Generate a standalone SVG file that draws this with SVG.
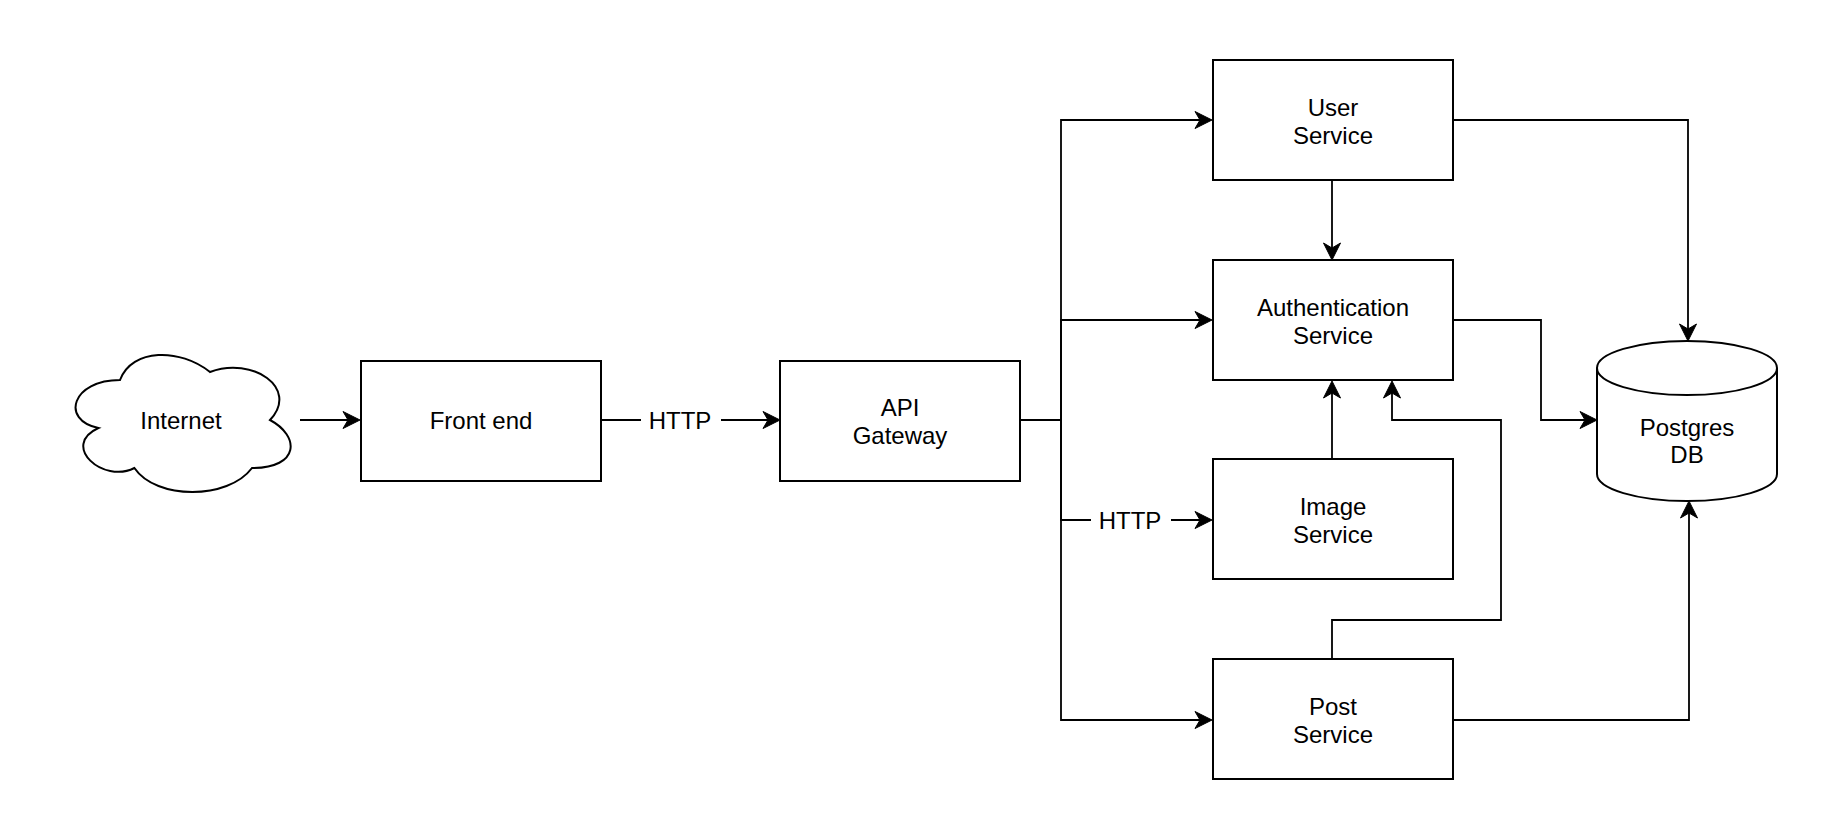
<svg xmlns="http://www.w3.org/2000/svg" width="1840" height="840" viewBox="0 0 1840 840">
<style>
.shape{fill:#ffffff;stroke:#000000;stroke-width:2}
.edge{fill:none;stroke:#000000;stroke-width:1.8;marker-end:url(#arr)}
.plain{fill:none;stroke:#000000;stroke-width:1.8}
.lbl{font-family:"Liberation Sans",Arial,Helvetica,sans-serif;font-size:24px;fill:#000000;text-anchor:middle}
.lblbg{fill:#ffffff;stroke:none}
</style>
<defs>
<marker id="arr" markerUnits="userSpaceOnUse" viewBox="-20 -10 40 20" markerWidth="40" markerHeight="20" refX="0" refY="0" orient="auto" overflow="visible">
<path d="M12,0 L-5,-8.5 L0,0 L-5,8.5 Z" fill="#000000" stroke="#000000" stroke-width="1" stroke-linejoin="miter"/>
</marker>
</defs>
<rect width="1840" height="840" fill="#ffffff"/>
<g id="connectors">
<path class="edge" d="M300,420 H348"/>
<path class="edge" d="M601,420 H768"/>
<path class="plain" d="M1020,420 H1061"/>
<path class="edge" d="M1061,420 V120 H1200"/>
<path class="edge" d="M1061,420 V320 H1200"/>
<path class="edge" d="M1061,420 V520 H1200"/>
<path class="edge" d="M1061,420 V720 H1200"/>
<path class="edge" d="M1332,181 V248"/>
<path class="edge" d="M1332,459 V393"/>
<path class="edge" d="M1332,659 V620 H1501 V420 H1392 V393"/>
<path class="edge" d="M1453,120 H1688 V329"/>
<path class="edge" d="M1453,320 H1541 V420 H1585"/>
<path class="edge" d="M1453,720 H1689 V513"/>
<g id="label-http-1">
<rect class="lblbg" x="641" y="404" width="80" height="32"/>
<text class="lbl" x="680" y="429">HTTP</text>
</g>
<g id="label-http-2">
<rect class="lblbg" x="1091" y="504" width="80" height="32"/>
<text class="lbl" x="1130" y="529">HTTP</text>
</g>
</g>
<g id="internet">
<path class="shape" d="M120,380 C72,380 60,420 98.4,428 C60,445.6 103.2,484 134.4,468 C156,500 228,500 252,468 C300,468 300,436 270,420 C300,388 252,356 210,372 C180,348 132,348 120,380 Z"/>
<text class="lbl" x="181" y="429">Internet</text>
</g>
<g id="frontend">
<rect class="shape" x="361" y="361" width="240" height="120"/>
<text class="lbl" x="481" y="429">Front end</text>
</g>
<g id="apigateway">
<rect class="shape" x="780" y="361" width="240" height="120"/>
<text class="lbl" x="900" y="416">API</text>
<text class="lbl" x="900" y="444">Gateway</text>
</g>
<g id="userservice">
<rect class="shape" x="1213" y="60" width="240" height="120"/>
<text class="lbl" x="1333" y="116">User</text>
<text class="lbl" x="1333" y="144">Service</text>
</g>
<g id="authservice">
<rect class="shape" x="1213" y="260" width="240" height="120"/>
<text class="lbl" x="1333" y="316">Authentication</text>
<text class="lbl" x="1333" y="344">Service</text>
</g>
<g id="imageservice">
<rect class="shape" x="1213" y="459" width="240" height="120"/>
<text class="lbl" x="1333" y="515">Image</text>
<text class="lbl" x="1333" y="543">Service</text>
</g>
<g id="postservice">
<rect class="shape" x="1213" y="659" width="240" height="120"/>
<text class="lbl" x="1333" y="715">Post</text>
<text class="lbl" x="1333" y="743">Service</text>
</g>
<g id="postgres">
<path class="shape" d="M1597,368 A90,27 0 0 1 1777,368 V474 A90,27 0 0 1 1597,474 Z"/>
<path class="plain" style="stroke-width:2" d="M1597,368 A90,27 0 0 0 1777,368"/>
<text class="lbl" x="1687" y="436">Postgres</text>
<text class="lbl" x="1687" y="463">DB</text>
</g>
</svg>
